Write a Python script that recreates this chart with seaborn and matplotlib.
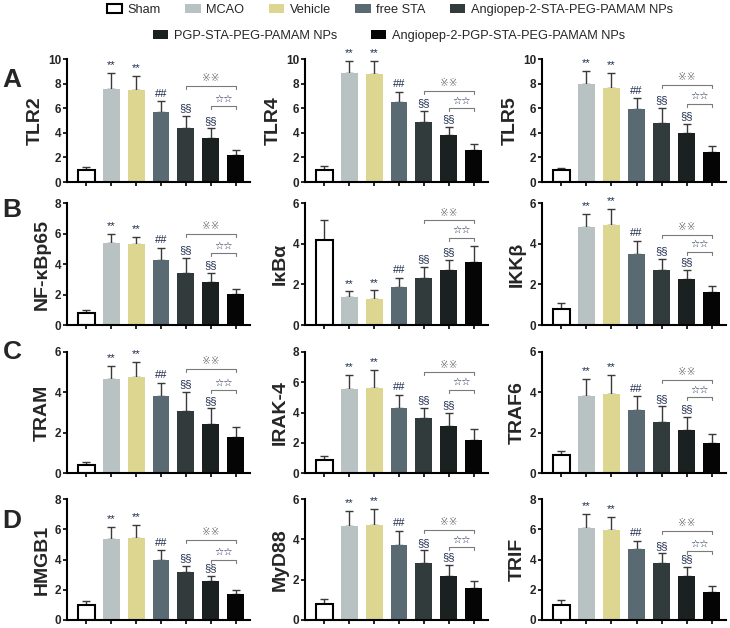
import numpy as np
import pandas as pd
import matplotlib
matplotlib.use('Agg')
import matplotlib.pyplot as plt
import matplotlib.patches as mpatches
import seaborn as sns

sns.set_style('ticks')
plt.rcParams['font.family'] = ['Liberation Sans', 'DejaVu Sans', 'Noto Sans CJK SC']

# groups and colours
groups = ['Sham', 'MCAO', 'Vehicle', 'free STA', 'Angiopep-2-STA-PEG-PAMAM NPs',
          'PGP-STA-PEG-PAMAM NPs', 'Angiopep-2-PGP-STA-PEG-PAMAM NPs']
colors = ['#ffffff', '#b8c2c2', '#dcd690', '#5a6a72', '#313b3c', '#1b2021', '#050505']

# relative expression (mean) and SD per marker
tlr2 = [1.0, 7.6, 7.5, 5.7, 4.4, 3.55, 2.2]
tlr2_sd = [0.25, 1.25, 1.1, 0.85, 1.0, 0.8, 0.4]
tlr4 = [0.95, 8.9, 8.75, 6.5, 4.9, 3.85, 2.6]
tlr4_sd = [0.35, 0.95, 1.1, 0.8, 0.85, 0.6, 0.45]
tlr5 = [0.95, 8.0, 7.65, 5.9, 4.8, 4.0, 2.4]
tlr5_sd = [0.2, 1.0, 1.2, 0.9, 1.2, 0.75, 0.5]
nfkb = [0.8, 5.4, 5.3, 4.25, 3.4, 2.8, 2.05]
nfkb_sd = [0.2, 0.6, 0.45, 0.8, 1.0, 0.6, 0.3]
ikba = [4.2, 1.4, 1.3, 1.85, 2.3, 2.7, 3.1]
ikba_sd = [0.95, 0.25, 0.4, 0.45, 0.55, 0.5, 0.8]
ikkb = [0.8, 4.8, 4.9, 3.5, 2.7, 2.25, 1.6]
ikkb_sd = [0.3, 0.65, 0.8, 0.65, 0.55, 0.45, 0.3]
tram = [0.4, 4.65, 4.75, 3.8, 3.05, 2.45, 1.8]
tram_sd = [0.15, 0.65, 0.75, 0.65, 0.95, 0.75, 0.5]
irak4 = [0.85, 5.55, 5.65, 4.3, 3.65, 3.1, 2.2]
irak4_sd = [0.25, 0.95, 1.15, 0.85, 0.65, 0.9, 0.7]
traf6 = [0.9, 3.8, 3.9, 3.1, 2.55, 2.15, 1.5]
traf6_sd = [0.2, 0.85, 0.95, 0.7, 0.75, 0.65, 0.45]
hmgb1 = [1.0, 5.35, 5.45, 4.0, 3.15, 2.55, 1.7]
hmgb1_sd = [0.25, 0.8, 0.85, 0.6, 0.45, 0.35, 0.3]
myd88 = [0.8, 4.65, 4.7, 3.7, 2.85, 2.2, 1.6]
myd88_sd = [0.25, 0.75, 0.8, 0.7, 0.6, 0.55, 0.35]
trif = [1.0, 6.1, 5.95, 4.7, 3.75, 2.9, 1.85]
trif_sd = [0.3, 0.9, 0.85, 0.55, 0.65, 0.6, 0.4]

labels = ['TLR2', 'TLR4', 'TLR5', 'NF-κBp65', 'IκBα', 'IKKβ',
          'TRAM', 'IRAK-4', 'TRAF6', 'HMGB1', 'MyD88', 'TRIF']
ymax = [10, 10, 10, 8, 6, 6, 6, 8, 6, 8, 6, 8]
# heights of the two comparison brackets
bracket_hi = [7.8, 7.4, 7.9, 6.0, 5.15, 4.45, 5.15, 6.65, 4.6, 5.3, 4.45, 5.9]
bracket_lo = [6.15, 6.0, 6.35, 4.7, 4.3, 3.6, 4.1, 5.5, 3.75, 4.0, 3.6, 4.55]

data = [(tlr2, tlr2_sd), (tlr4, tlr4_sd), (tlr5, tlr5_sd),
        (nfkb, nfkb_sd), (ikba, ikba_sd), (ikkb, ikkb_sd),
        (tram, tram_sd), (irak4, irak4_sd), (traf6, traf6_sd),
        (hmgb1, hmgb1_sd), (myd88, myd88_sd), (trif, trif_sd)]

W, H = 730, 628
fig = plt.figure(figsize=(W / 100, H / 100), dpi=100)

col_px = [(67, 250), (305, 488), (542, 726)]
row_px = [(59, 182), (203, 325), (352, 473), (499, 620)]
navy = '#1d2b4c'
grey = '#7a7a7a'


def bracket(ax, x0, x1, y, text, tcolor, d):
    ax.plot([x0, x0, x1, x1], [y - d, y, y, y - d], color=grey, lw=0.8, clip_on=False)
    ax.annotate(text, (0.5 * (x0 + x1), y), xytext=(0, 2), textcoords='offset points',
                ha='center', va='bottom', fontsize=7.5, color=tcolor, annotation_clip=False)


for k in range(12):
    r, c = divmod(k, 3)
    l_px, r_px = col_px[c]
    t_px, b_px = row_px[r]
    ax = fig.add_axes([l_px / W, 1 - b_px / H, (r_px - l_px) / W, (b_px - t_px) / H])
    mean, sd = data[k]
    df = pd.DataFrame({'group': groups, 'value': mean})
    sns.barplot(data=df, x='group', y='value', hue='group', order=groups, hue_order=groups,
                palette=colors, saturation=1, width=0.68, errorbar=None, legend=False,
                linewidth=0, ax=ax)
    ax.patches[0].set_edgecolor('black')
    ax.patches[0].set_linewidth(1.5)
    x = np.arange(7)
    ax.errorbar(x, mean, yerr=[np.zeros(7), sd], fmt='none', ecolor='#3a3a3a',
                elinewidth=1, capsize=3, capthick=1, zorder=1)
    for p in ax.patches:
        p.set_zorder(2)

    tops = np.array(mean) + np.array(sd)
    for i, s in [(1, '**'), (2, '**'), (3, '##'), (4, '§§'), (5, '§§')]:
        ax.annotate(s, (i, tops[i]), xytext=(0, 2), textcoords='offset points',
                    ha='center', va='bottom', fontsize=8, color=navy, annotation_clip=False)
    d = ymax[k] * 0.025
    bracket(ax, 4, 6, bracket_hi[k], '※※', grey, d)
    bracket(ax, 5, 6, bracket_lo[k], '☆☆', navy, d)

    ax.set_xlim(-0.77, 6.57)
    ax.set_ylim(0, ymax[k])
    ax.set_yticks(np.arange(0, ymax[k] + 1, 2))
    ax.set_xticks(x)
    ax.set_xticklabels([])
    ax.set_xlabel('')
    ax.set_ylabel(labels[k], fontsize=14, fontweight='bold', labelpad=3)
    sns.despine(ax=ax)
    for sp in ['left', 'bottom']:
        ax.spines[sp].set_linewidth(1.5)
        ax.spines[sp].set_color('black')
    ax.tick_params(axis='both', direction='out', length=3, width=1.2, color='black')
    ax.tick_params(axis='y', labelsize=8.5, pad=1)
    for t in ax.get_yticklabels():
        t.set_fontweight('bold')

# panel letters
for letter, ypx in zip('ABCD', [80, 210, 352, 521]):
    fig.text(12 / W, 1 - ypx / H, letter, fontsize=19, fontweight='bold',
             ha='center', va='center')

# legend
handles = []
for g, col in zip(groups, colors):
    handles.append(mpatches.Patch(facecolor=col, edgecolor='black' if g == 'Sham' else col,
                                  linewidth=1.5 if g == 'Sham' else 0, label=g))
fig.legend(handles=handles[:5], loc='center', bbox_to_anchor=(390 / W, 1 - 10 / H),
           ncol=5, frameon=False, fontsize=9.2, handlelength=1.2, handleheight=0.7,
           handletextpad=0.45, columnspacing=1.9, borderaxespad=0, borderpad=0)
fig.legend(handles=handles[5:], loc='center', bbox_to_anchor=(389 / W, 1 - 36 / H),
           ncol=2, frameon=False, fontsize=9.2, handlelength=1.2, handleheight=0.7,
           handletextpad=0.45, columnspacing=2.6, borderaxespad=0, borderpad=0)

fig.savefig('out.png', dpi=100)
